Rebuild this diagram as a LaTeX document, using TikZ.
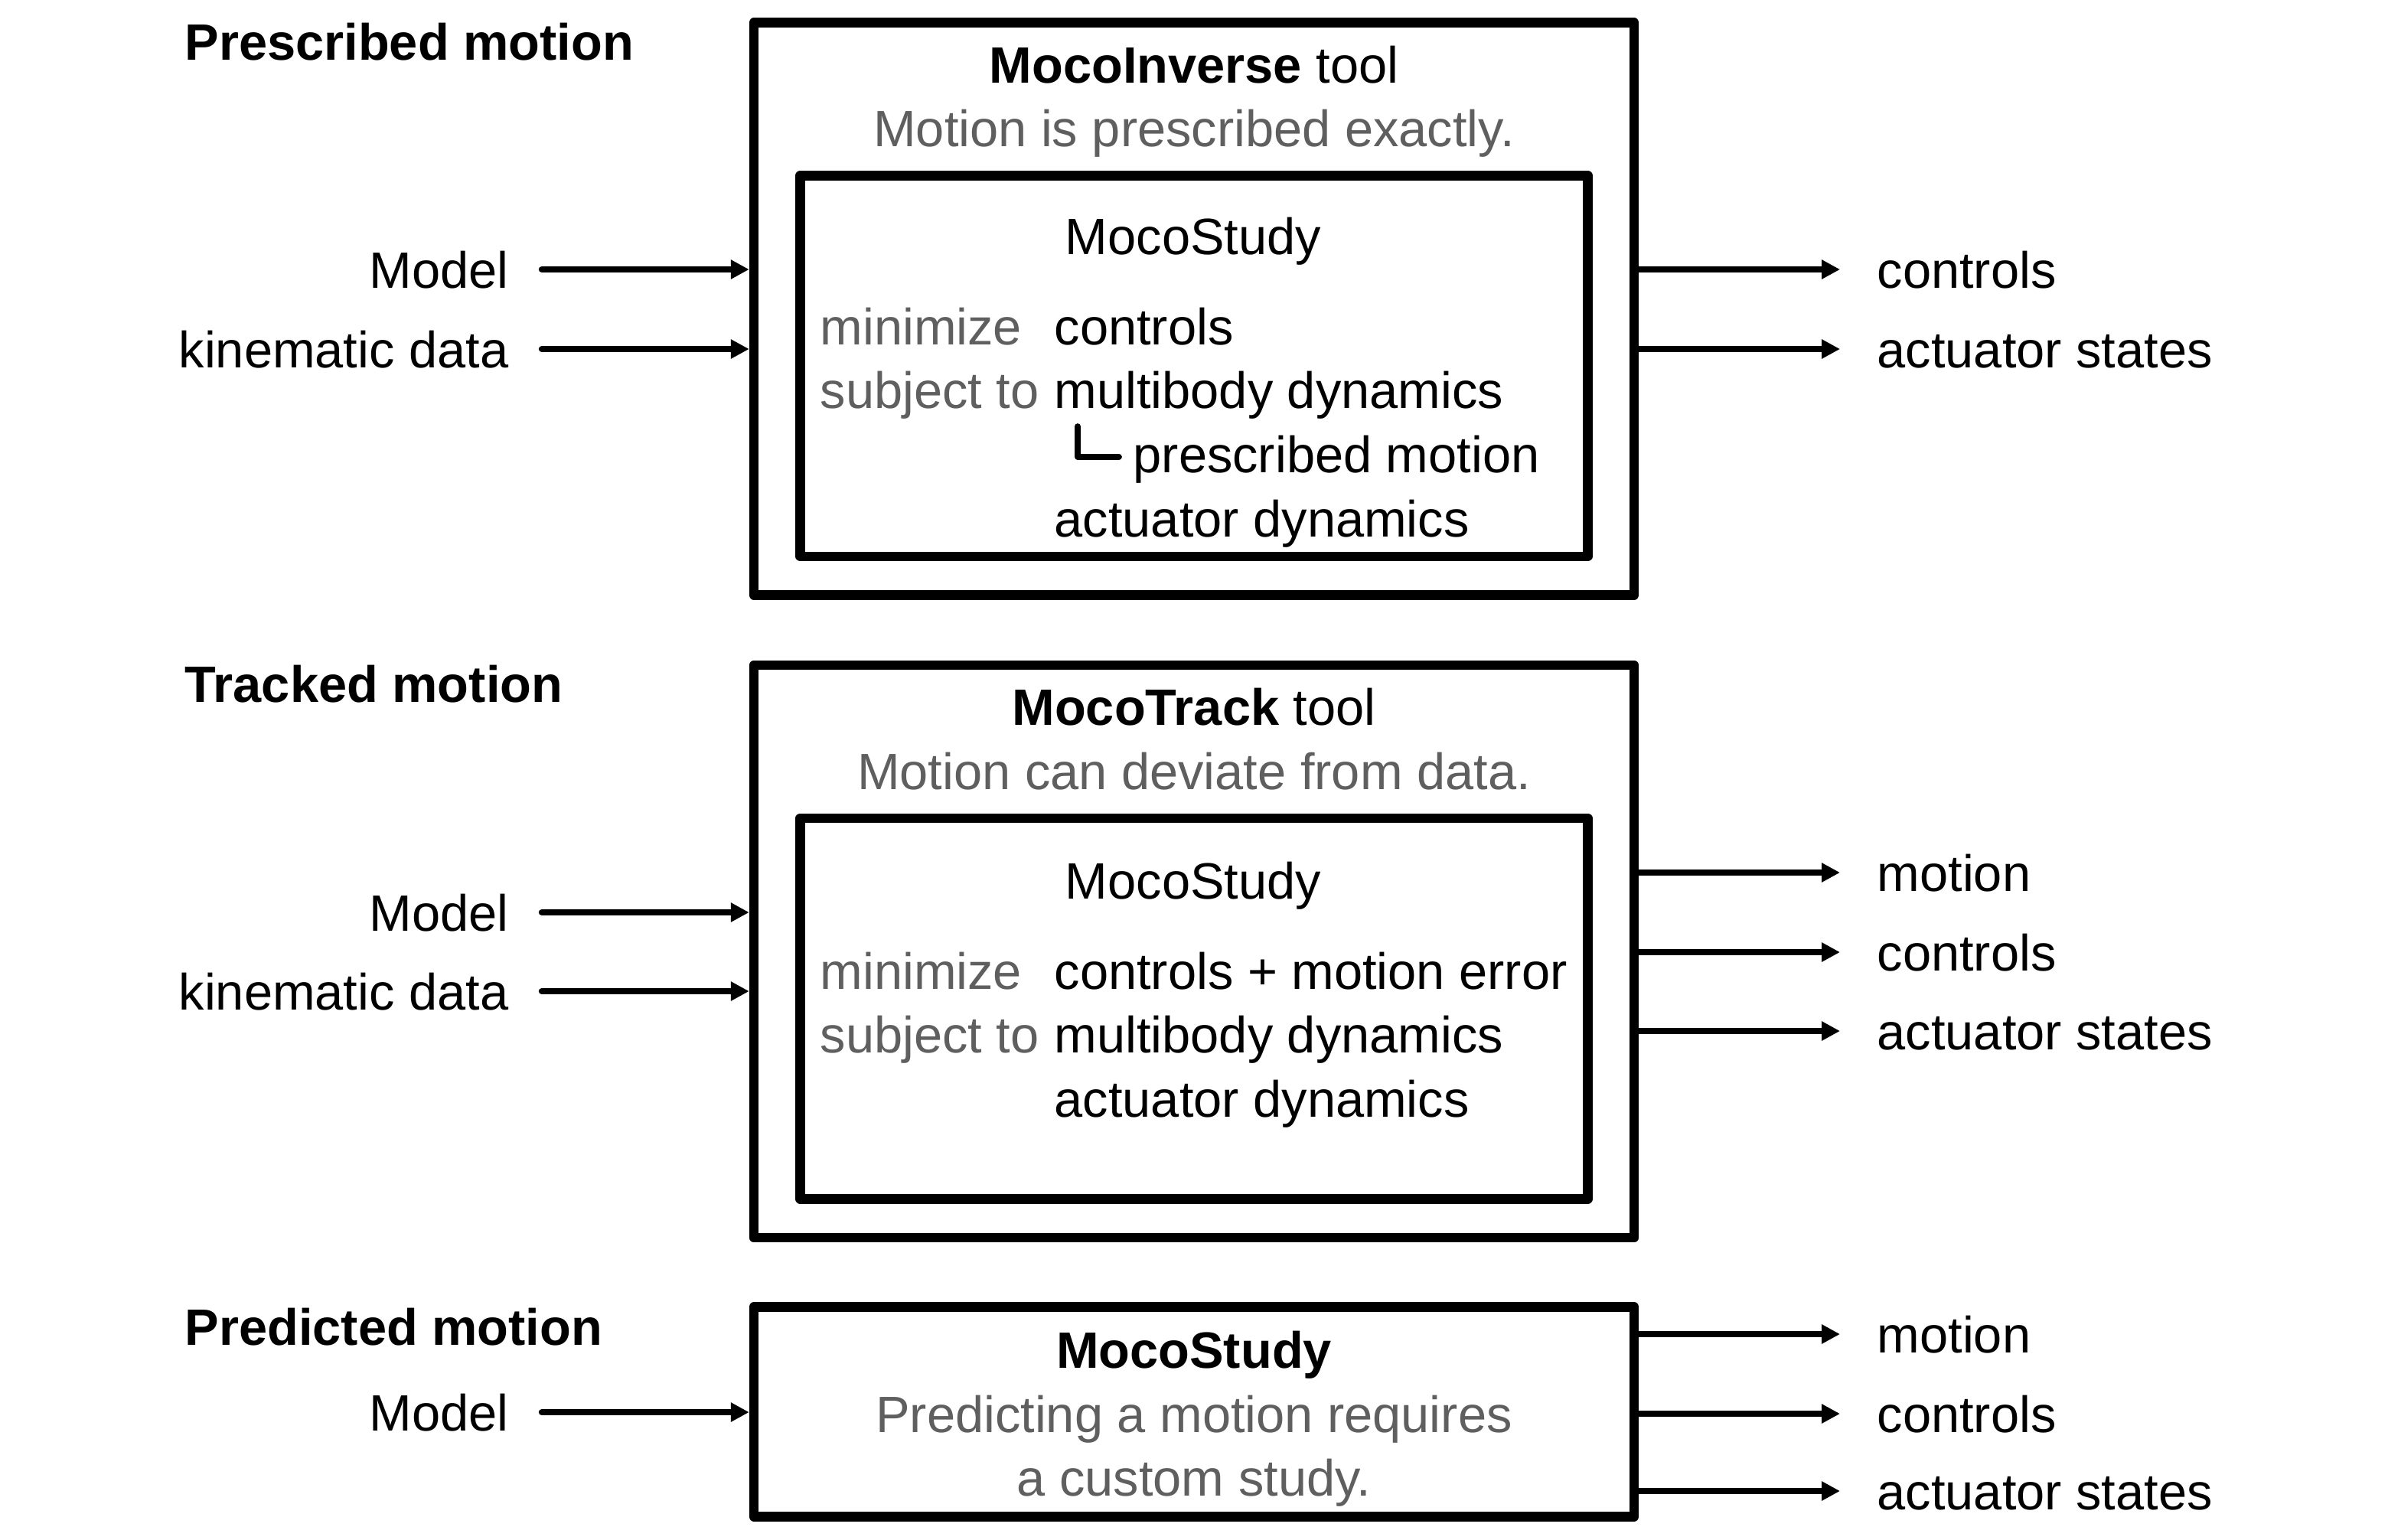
\documentclass[tikz,border=0pt]{standalone}
\usepackage{fontspec}
\setmainfont{Liberation Sans}
\usetikzlibrary{arrows.meta,positioning,calc}
\definecolor{ink}{HTML}{000000}
\definecolor{muted}{HTML}{5F5F5F}
\tikzset{
  toolbox/.style={draw=ink,line width=1.25mm,line join=round,inner sep=0pt,minimum width=11.50cm,minimum height=7.48cm},
  studybox/.style={draw=ink,line width=1.25mm,line join=round,inner sep=0pt,minimum width=10.29cm,minimum height=4.975cm},
  predbox/.style={draw=ink,line width=1.25mm,line join=round,inner sep=0pt,minimum width=11.50cm,minimum height=2.74cm},
  txt/.style={font=\fontsize{19}{23.7}\selectfont,text=ink,inner sep=0pt,text height=0.48cm,text depth=0cm},
  note/.style={txt,text=muted},
  sect/.style={txt,font=\fontsize{19}{23.7}\selectfont\bfseries,anchor=west},
  flow/.style={-{Triangle[length=2.4mm,width=2.4mm]},line width=0.85mm,line cap=round,draw=ink},
  hook/.style={line width=0.77mm,line cap=round,line join=round,draw=ink}
}
\begin{document}
\begin{tikzpicture}
  \useasboundingbox (0,0) rectangle (31.2,-20.11);
  % prescribed motion
  \node[sect] (presc) at (2.41,-0.54) {Prescribed motion};
  \node[toolbox] (inv) at (15.60,-4.034) {};
  \node[studybox] (invstudy) at (15.60,-4.78) {};
  \node[txt] (invtitle) at (15.60,-0.84) {\textbf{MocoInverse} tool};
  \node[note] (invnote) at (15.60,-1.67) {Motion is prescribed exactly.};
  \node[txt] (invname) at (15.59,-3.08) {MocoStudy};
  \node[note,anchor=west] (invmin) at (10.71,-4.26) {minimize};
  \node[note,anchor=west] (invsub) at (10.71,-5.09) {subject to};
  \node[txt,anchor=west] (invctl) at (13.77,-4.26) {controls};
  \node[txt,anchor=west] (invmb) at (13.77,-5.09) {multibody dynamics};
  \node[txt,anchor=west] (invpm) at (14.80,-5.93) {prescribed motion};
  \node[txt,anchor=west] (invact) at (13.77,-6.77) {actuator dynamics};
  \draw[hook] ([xshift=-7.2mm,yshift=3.6mm]invpm.west) |- ([xshift=-1.8mm,yshift=-0.4mm]invpm.west);
  \node[txt,anchor=east] (invmodel) at (6.65,-3.52) {Model};
  \node[txt,anchor=east] (invkin) at (6.65,-4.56) {kinematic data};
  \node[txt,anchor=west] (invctrl) at (24.52,-3.52) {controls};
  \node[txt,anchor=west] (invstate) at (24.52,-4.56) {actuator states};
  \draw[flow] ([xshift=4.3mm]invmodel.east) -- (invmodel.east -| inv.west);
  \draw[flow] ([xshift=4.3mm]invkin.east) -- (invkin.east -| inv.west);
  \draw[flow] (invctrl.west -| inv.east) -- ([xshift=-4.8mm]invctrl.west);
  \draw[flow] (invstate.west -| inv.east) -- ([xshift=-4.8mm]invstate.west);

  % tracked motion
  \node[sect] (track) at (2.41,-8.93) {Tracked motion};
  \node[toolbox] (trk) at (15.60,-12.431) {};
  \node[studybox] (trkstudy) at (15.60,-13.177) {};
  \node[txt] (trktitle) at (15.60,-9.23) {\textbf{MocoTrack} tool};
  \node[note] (trknote) at (15.60,-10.07) {Motion can deviate from data.};
  \node[txt] (trkname) at (15.59,-11.50) {MocoStudy};
  \node[note,anchor=west] (trkmin) at (10.71,-12.68) {minimize};
  \node[note,anchor=west] (trksub) at (10.71,-13.51) {subject to};
  \node[txt,anchor=west] (trkctl) at (13.77,-12.68) {controls + motion error};
  \node[txt,anchor=west] (trkmb) at (13.77,-13.51) {multibody dynamics};
  \node[txt,anchor=west] (trkact) at (13.77,-14.35) {actuator dynamics};
  \node[txt,anchor=east] (trkmodel) at (6.65,-11.92) {Model};
  \node[txt,anchor=east] (trkkin) at (6.65,-12.95) {kinematic data};
  \node[txt,anchor=west] (trkmot) at (24.52,-11.40) {motion};
  \node[txt,anchor=west] (trkctrl) at (24.52,-12.44) {controls};
  \node[txt,anchor=west] (trkstate) at (24.52,-13.47) {actuator states};
  \draw[flow] ([xshift=4.3mm]trkmodel.east) -- (trkmodel.east -| trk.west);
  \draw[flow] ([xshift=4.3mm]trkkin.east) -- (trkkin.east -| trk.west);
  \draw[flow] (trkmot.west -| trk.east) -- ([xshift=-4.8mm]trkmot.west);
  \draw[flow] (trkctrl.west -| trk.east) -- ([xshift=-4.8mm]trkctrl.west);
  \draw[flow] (trkstate.west -| trk.east) -- ([xshift=-4.8mm]trkstate.west);

  % predicted motion
  \node[sect] (predict) at (2.41,-17.33) {Predicted motion};
  \node[predbox] (pred) at (15.60,-18.445) {};
  \node[txt] (predtitle) at (15.60,-17.63) {\textbf{MocoStudy}};
  \node[note] (prednote) at (15.60,-18.47) {Predicting a motion requires};
  \node[note] (prednotetwo) at (15.60,-19.30) {a custom study.};
  \node[txt,anchor=east] (predmodel) at (6.65,-18.45) {Model};
  \node[txt,anchor=west] (predmot) at (24.52,-17.43) {motion};
  \node[txt,anchor=west] (predctrl) at (24.52,-18.47) {controls};
  \node[txt,anchor=west] (predstate) at (24.52,-19.48) {actuator states};
  \draw[flow] ([xshift=4.3mm]predmodel.east) -- (predmodel.east -| pred.west);
  \draw[flow] (predmot.west -| pred.east) -- ([xshift=-4.8mm]predmot.west);
  \draw[flow] (predctrl.west -| pred.east) -- ([xshift=-4.8mm]predctrl.west);
  \draw[flow] (predstate.west -| pred.east) -- ([xshift=-4.8mm]predstate.west);
\end{tikzpicture}
\end{document}
